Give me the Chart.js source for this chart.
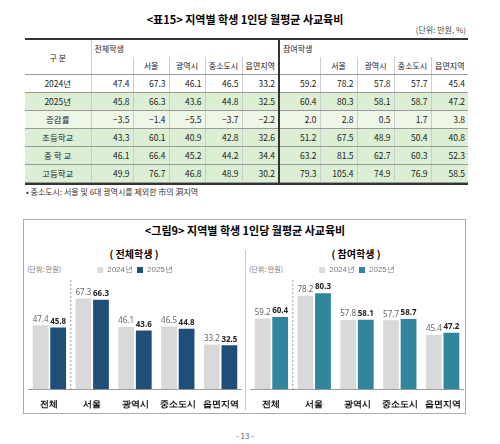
<!DOCTYPE html>
<html><head><meta charset="utf-8">
<script src="https://cdn.jsdelivr.net/npm/chart.js@4"></script>
<style>
body{margin:0;width:500px;height:444px;background:#fff;font-family:"Noto Sans CJK KR","Noto Sans",sans-serif;position:relative;overflow:hidden}
.abs{position:absolute}
table{border-collapse:collapse;font-size:8.5px;color:#222;table-layout:fixed}
td{height:17px;line-height:17px;padding:0 3px;border-bottom:1px solid #999;text-align:right;border-left:1px solid #ccc;white-space:nowrap;overflow:hidden}
td.c{text-align:center;padding:0}
tr.h td{font-size:8px}
tr.g td{background:#dcefd4}
tr.l td{background:#eef6e8}
</style></head><body>
<div class="abs" style="left:0;width:490px;top:11px;text-align:center;font-weight:bold;font-size:11px">&lt;표15&gt; 지역별 학생 1인당 월평균 사교육비</div>
<div class="abs" style="right:34px;top:24px;font-size:8px;color:#444">(단위: 만원, %)</div>
<div class="abs" style="left:25px;top:38px;width:443px;border-top:2px solid #333;border-bottom:2px solid #333">
<table id="tb" style="width:443px"></table></div>
<div class="abs" style="left:26px;top:186px;font-size:8px;color:#333">• 중소도시: 서울 및 6대 광역시를 제외한 市의 洞지역</div>

<div class="abs" style="left:23px;top:219px;width:441px;height:193px;border:1.5px solid #aaa"></div>
<div class="abs" style="left:0;width:490px;top:222px;text-align:center;font-weight:bold;font-size:11px">&lt;그림9&gt; 지역별 학생 1인당 월평균 사교육비</div>
<div class="abs" style="left:245px;top:250px;height:160px;border-left:1px solid #ccc"></div>
<div class="abs" style="left:23px;width:222px;top:246px;text-align:center;font-weight:bold;font-size:10px">( 전체학생 )</div>
<div class="abs" style="left:245px;width:222px;top:246px;text-align:center;font-weight:bold;font-size:10px">( 참여학생 )</div>
<div class="abs" style="left:27px;top:264px;font-size:7px;color:#777">(단위: 만원)</div>
<div class="abs" style="left:249px;top:264px;font-size:7px;color:#777">(단위: 만원)</div>
<div class="abs" style="left:28px;top:262px;width:214px;height:150px"><canvas id="c1"></canvas></div>
<div class="abs" style="left:250px;top:262px;width:214px;height:150px"><canvas id="c2"></canvas></div>
<div class="abs" style="left:0;width:490px;top:430px;text-align:center;font-size:8px;color:#666">- 13 -</div>
<script>
const regions=["전체","서울","광역시","중소도시","읍면지역"];
const years=["2024년","2025년"];
const all2024=[47.4,67.3,46.1,46.5,33.2];
const all2025=[45.8,66.3,43.6,44.8,32.5];
const allRate=[-3.5,-1.4,-5.5,-3.7,-2.2];
const allElem=[43.3,60.1,40.9,42.8,32.6];
const allMid=[46.1,66.4,45.2,44.2,34.4];
const allHigh=[49.9,76.7,46.8,48.9,30.2];
const par2024=[59.2,78.2,57.8,57.7,45.4];
const par2025=[60.4,80.3,58.1,58.7,47.2];
const parRate=[2.0,2.8,0.5,1.7,3.8];
const parElem=[51.2,67.5,48.9,50.4,40.8];
const parMid=[63.2,81.5,62.7,60.3,52.3];
const parHigh=[79.3,105.4,74.9,76.9,58.5];
const rowLabels=["2024년","2025년","증감률","초등학교","중 학 교","고등학교"];

const tb=document.getElementById('tb');
const W=[66,42,36,36,37,37,41,37,37,37,37];
let h='<colgroup>'+W.map(w=>`<col style="width:${w}px">`).join('')+'</colgroup>';
h+=`<tr class="h"><td class="c" rowspan="2" style="border-left:none">구 분</td><td colspan="5" style="text-align:left;border-bottom:none;border-right:2px solid #333">전체학생</td><td colspan="5" style="text-align:left;border-bottom:none">참여학생</td></tr>`;
h+='<tr class="h"><td></td>'+regions.slice(1).map((r,i)=>`<td class="c" ${i==3?'style="border-right:2px solid #333"':''}>${r}</td>`).join('')+'<td></td>'+regions.slice(1).map(r=>`<td class="c">${r}</td>`).join('')+'</tr>';
const rowsA=[all2024,all2025,allRate,allElem,allMid,allHigh];
const rowsP=[par2024,par2025,parRate,parElem,parMid,parHigh];
const fmt=v=>v<0?'−'+Math.abs(v).toFixed(1):v.toFixed(1);
rowLabels.forEach((lab,i)=>{
 const cls=i==0?'':(i==2?'l':'g');
 h+=`<tr class="${cls}"><td class="c" style="border-left:none">${lab}</td>`+rowsA[i].map((v,j)=>`<td ${j==4?'style="border-right:2px solid #333"':''}>${fmt(v)}</td>`).join('')+rowsP[i].map(v=>`<td>${fmt(v)}</td>`).join('')+'</tr>';
});
tb.innerHTML=h;

const labelPlugin={id:'lbl',afterDatasetsDraw(ch){
 const c=ch.ctx;c.save();c.textAlign='center';c.textBaseline='bottom';
 ch.data.datasets.forEach((ds,di)=>{ch.getDatasetMeta(di).data.forEach((b,i)=>{
  c.font=(di==1?'bold ':'')+'8px "Noto Sans","DejaVu Sans",sans-serif';
  c.fillStyle=di==1?'#222':'#666';
  c.fillText(ds.data[i].toFixed(1),b.x,b.y-2);});});
 const x=ch.scales.x, y=ch.scales.y;
 const xm=(x.getPixelForValue(0)+x.getPixelForValue(1))/2;
 c.strokeStyle='#999';c.setLineDash([2,2]);c.beginPath();c.moveTo(xm,ch.chartArea.top-4);c.lineTo(xm,y.bottom);c.stroke();
 c.restore();}};
function mk(id,d1,d2,col,max){
 new Chart(document.getElementById(id),{type:'bar',
  data:{labels:regions,datasets:[
   {label:'2024년',data:d1,backgroundColor:'#d9d9d9'},
   {label:'2025년',data:d2,backgroundColor:col}]},
  options:{responsive:true,maintainAspectRatio:false,animation:false,
   datasets:{bar:{barPercentage:0.9,categoryPercentage:0.82}},
   plugins:{legend:{labels:{boxWidth:6,boxHeight:6,font:{size:8},color:'#777',padding:4}},tooltip:{enabled:false}},
   scales:{x:{grid:{display:false},border:{color:'#999'},ticks:{color:'#111',font:{size:9,weight:'bold'},padding:2}},
    y:{display:false,min:0,max:max}}},
  plugins:[labelPlugin]});
}
mk('c1',all2024,all2025,'#1f4e79',78);
mk('c2',par2024,par2025,'#31859c',88);
</script></body></html>
